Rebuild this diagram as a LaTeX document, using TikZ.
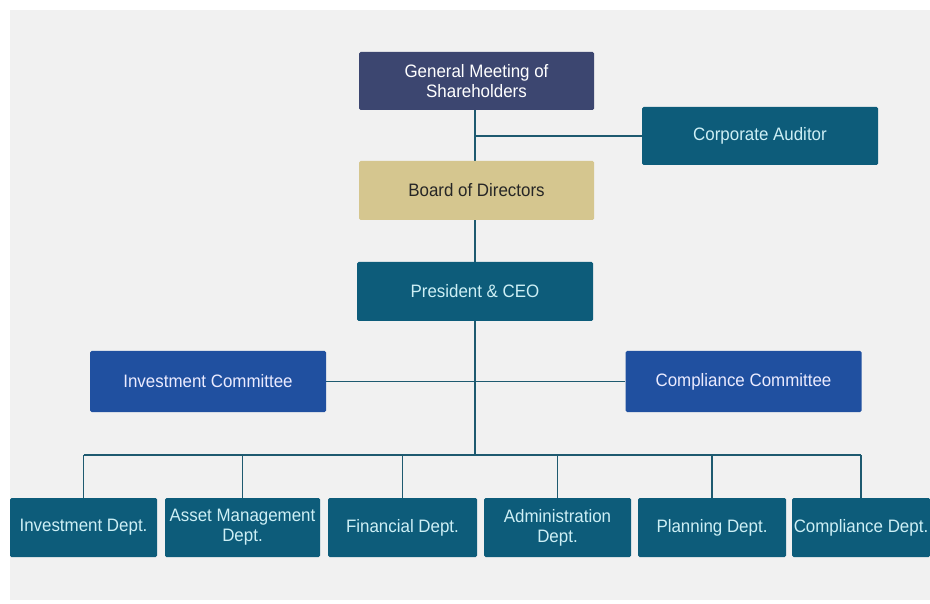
\documentclass[tikz,border=0pt]{standalone}
\usepackage{fontspec}
\setmainfont[FakeStretch=0.94]{Liberation Sans}
\usetikzlibrary{backgrounds}
\definecolor{teal1}{HTML}{0D5C7A}
\definecolor{navy1}{HTML}{3C4670}
\definecolor{blue1}{HTML}{2050A0}
\definecolor{tan1}{HTML}{D5C68F}
\definecolor{line1}{HTML}{1E5A70}
\definecolor{bg1}{HTML}{F1F1F1}
\definecolor{pale1}{HTML}{CDEFF5}
\begin{document}
\begin{tikzpicture}[x=1pt,y=-1pt,
    box/.style={rounded corners=1.5pt, align=center, inner sep=0pt, font=\fontsize{18}{20}\selectfont, text=white},
    unit/.style={box, fill=teal1, minimum height=59pt, text=pale1},
    comm/.style={box, fill=blue1, minimum width=236pt, minimum height=61pt, text=blue!8},
    link/.style={line1, line width=1.2pt}]
    \useasboundingbox (0,0) rectangle (930,604);
    \node[box, fill=navy1, minimum width=235pt, minimum height=58pt] (gm) at (476.5,81) {General Meeting of\\Shareholders};
    \node[unit, minimum width=236pt, minimum height=58pt] (aud) at (760,136) {Corporate Auditor};
    \node[box, fill=tan1, text=black!85, minimum width=235pt, minimum height=59pt] (bod) at (476.5,190.5) {Board of Directors};
    \node[unit, minimum width=236pt] (ceo) at (475,291.5) {President \& CEO};
    \node[comm] (icom) at (208,381.5) {Investment Committee};
    \node[comm] (ccom) at (743.5,381.5) {Compliance Committee};
    \node[unit, minimum width=147pt] (d1) at (83.5,527.5) {Investment Dept.};
    \node[unit, minimum width=155pt] (d2) at (242.5,527.5) {Asset Management\\Dept.};
    \node[unit, minimum width=149pt] (d3) at (402.5,527.5) {Financial Dept.};
    \node[unit, minimum width=147pt] (d4) at (557.5,527.5) {Administration\\Dept.};
    \node[unit, minimum width=148pt] (d5) at (712,527.5) {Planning Dept.};
    \node[unit, minimum width=138pt] (d6) at (861,527.5) {Compliance Dept.};
    \coordinate (bus) at (475,455);
    \begin{scope}[on background layer]
    \fill[bg1] (10,10) rectangle (930,600);
    \draw[link] (gm.south -| bus) -- (bus);
    \draw[link] (aud.west) -- (aud.west -| bus);
    \draw[link] (icom) -- (ccom);
    \draw[link] (d1.north |- bus) -- (d6.north |- bus);
    \foreach \d in {d1,d2,d3,d4,d5,d6}
      \draw[link] (\d.north) -- (\d.north |- bus);
    \end{scope}
  \end{tikzpicture}
\end{document}
